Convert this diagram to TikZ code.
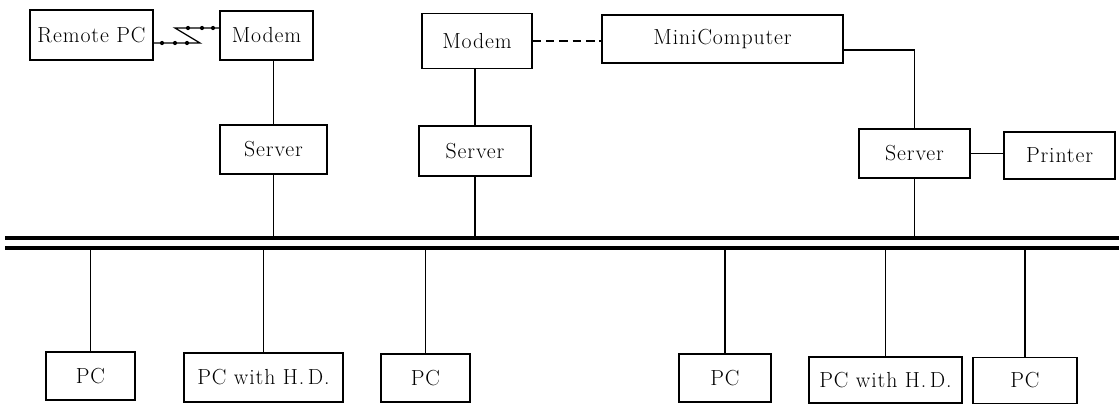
\documentclass[tikz,border=0pt]{standalone}
\usepackage{fontspec}
\setmainfont{Latin Modern Roman}[LetterSpace=4]
\tikzset{
  box/.style={draw,line width=0.9pt,inner sep=0pt,font=\fontsize{15.5}{17}\selectfont},
  link/.style={line width=0.9pt},
  bus/.style={line width=2.6pt},
}
\begin{document}
\begin{tikzpicture}[x=0.025cm,y=-0.025cm]
  \useasboundingbox (0,0) rectangle (1120,404);
  % top row
  \node[box,minimum width=3.075cm,minimum height=1.25cm] (remote) at (91.5,35) {Remote PC};
  \node[box,minimum width=2.325cm,minimum height=1.225cm] (modemA) at (266.5,35.5) {Modem};
  \node[box,minimum width=2.75cm,minimum height=1.375cm] (modemB) at (477,41) {Modem};
  \node[box,minimum width=6.025cm,minimum height=1.2cm] (mini) at (722.5,39) {MiniComputer};
  % servers
  \node[box,minimum width=2.675cm,minimum height=1.225cm] (srvA) at (273.5,149.5) {Server};
  \node[box,minimum width=2.8cm,minimum height=1.25cm] (srvB) at (475,151) {Server};
  \node[box,minimum width=2.775cm,minimum height=1.225cm] (srvC) at (914.5,153.5) {Server};
  \node[box,minimum width=2.775cm,minimum height=1.175cm] (printer) at (1059.5,155.5) {Printer};
  % bottom row
  \node[box,minimum width=2.225cm,minimum height=1.2cm] (pcA) at (90.5,376) {PC};
  \node[box,minimum width=3.975cm,minimum height=1.225cm] (hdA) at (263.5,377.5) {PC with H.\,D.};
  \node[box,minimum width=2.225cm,minimum height=1.2cm] (pcB) at (425.5,378) {PC};
  \node[box,minimum width=2.3cm,minimum height=1.2cm] (pcC) at (725,378) {PC};
  \node[box,minimum width=3.825cm,minimum height=1.15cm] (hdB) at (885.5,380) {PC with H.\,D.};
  \node[box,minimum width=2.6cm,minimum height=1.15cm] (pcD) at (1025,380.5) {PC};
  % bus
  \coordinate (busTL) at (5,238);
  \coordinate (busTR) at (1119,238);
  \coordinate (busBL) at (5,248);
  \coordinate (busBR) at (1119,248);
  \draw[bus] (busTL) -- (busTR);
  \draw[bus] (busBL) -- (busBR);
  % phone link
  \coordinate (zA) at (200,43);
  \coordinate (zB) at (175,28);
  \draw[link] (remote.east |- zA) -- (zA) -- (zB) -- (zB -| modemA.west);
  \foreach \x in {162,175,187} \fill (\x,43) circle (1.5pt);
  \foreach \x in {188,202,213} \fill (\x,28) circle (1.5pt);
  % vertical links
  \draw[link] (srvA.north) -- (srvA.north |- modemA.south);
  \draw[link] (srvA.south) -- (srvA.south |- busTL);
  \draw[link] (srvB.north) -- (srvB.north |- modemB.south);
  \draw[link] (srvB.south) -- (srvB.south |- busTL);
  \draw[link] ([yshift=-0.275cm]mini.east) -| (srvC.north);
  \draw[link] (srvC.south) -- (srvC.south |- busTL);
  \draw[link] (srvC.east) -- (srvC.east -| printer.west);
  \draw[link,dash pattern=on 6pt off 3.5pt] (modemB.east) -- (modemB.east -| mini.west);
  \foreach \n in {pcA,hdA,pcB,pcC,hdB,pcD}
    \draw[link] (\n.north) -- (\n.north |- busBL);
\end{tikzpicture}
\end{document}
